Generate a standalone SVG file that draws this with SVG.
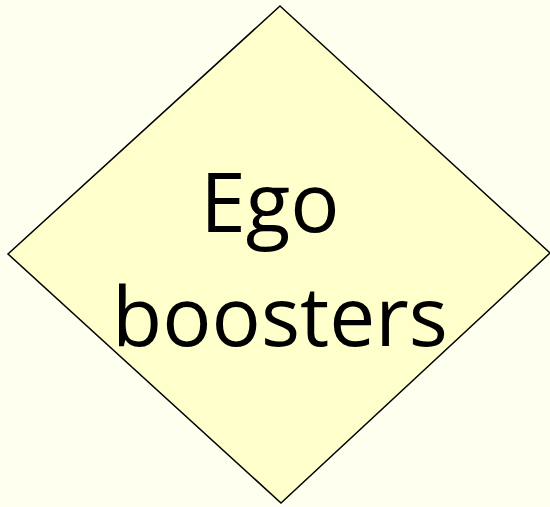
<svg xmlns="http://www.w3.org/2000/svg" width="550" height="507" viewBox="0 0 550 507">
<style>
.bg{fill:#FFFFF0}
.node{fill:#FFFFCC;stroke:#000;stroke-width:1.5}
.lbl{font-family:"Open Sans","Noto Sans",sans-serif;font-size:82px;fill:#000;text-anchor:middle}
</style>
<rect class="bg" x="0" y="0" width="550" height="507"/>
<g id="node-ego-boosters">
<polygon class="node" points="280,6 550,253 281,503 8,254"/>
<text class="lbl" x="270" y="232">Ego</text>
<text class="lbl" x="280" y="346">boosters</text>
</g>
<g id="connectors"/>
</svg>
